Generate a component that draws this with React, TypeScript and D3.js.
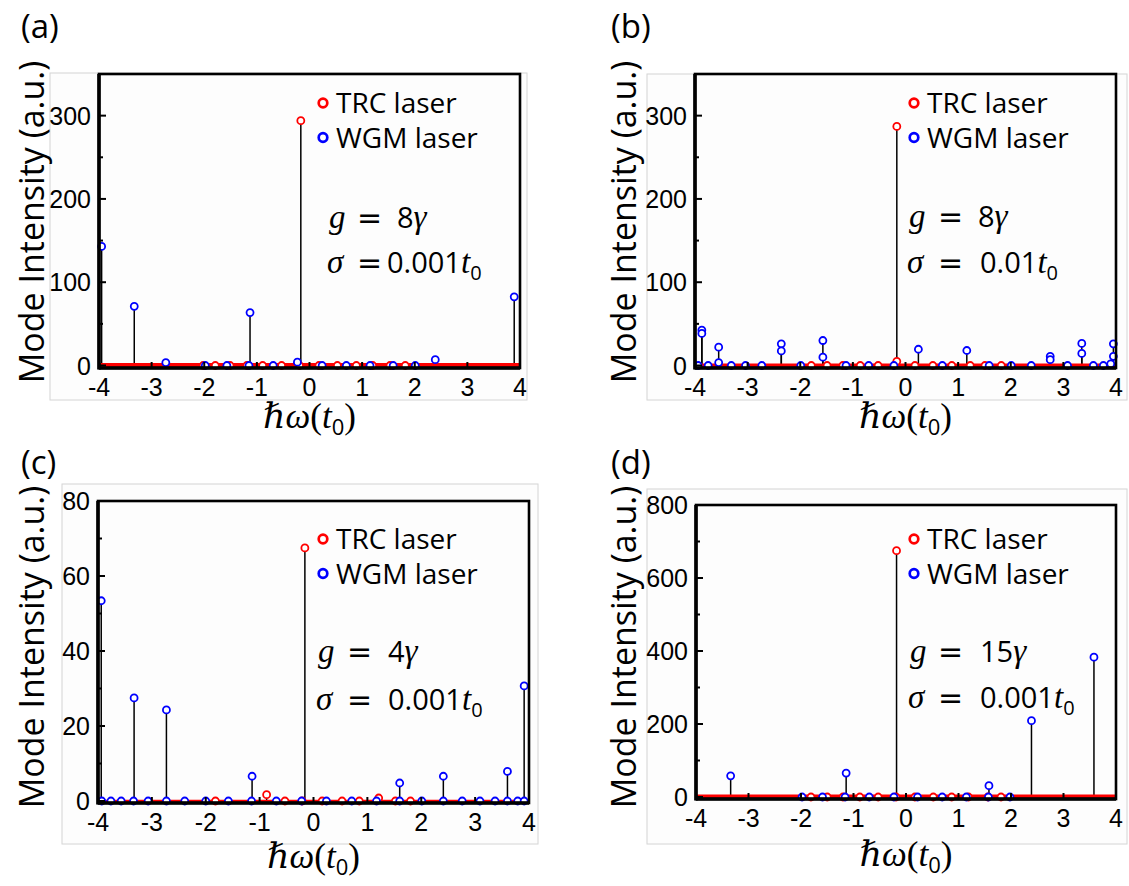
import React from 'react';
import * as d3 from 'd3';

// ---------- DATA ----------
const xTickValues = [-4, -3, -2, -1, 0, 1, 2, 3, 4];

// Panel (a): g = 8γ, σ = 0.001 t0
const aTrcOmega = [-0.165, -2.02, -1.79, -1.51, -1.19, -0.89, -0.53, -0.19, 0.18, 0.53, 0.89, 1.2, 1.53, 1.82];
const aTrcValue = [294, 0, 0, 0, 0, 0, 0, 0, 0, 0, 0, 0, 0, 0];
const aWgmOmega = [-3.95, -3.33, -2.73, -1.13, -0.23, 2.39, 3.89, -1.98, -1.57, -1.15, -0.69, 0.24, 0.7, 1.15, 1.59, 2.01];
const aWgmValue = [143, 71, 3.5, 63.5, 4, 7, 82.5, 0, 0, 0, 0, 0, 0, 0, 0, 0];
const aYTicks = [0, 100, 200, 300];
const aYMinor = [50, 150, 250];

// Panel (b): g = 8γ, σ = 0.01 t0
const bTrcOmega = [-0.165, -0.165, -1.79, -1.49, -1.19, -0.86, -0.52, 0.18, 0.52, 0.88, 1.23, 1.51, 1.82];
const bTrcValue = [287, 5, 0, 0, 0, 0, 0, 0, 0, 0, 0, 0, 0];
const bWgmOmega = [-3.87, -3.87, -3.55, -3.55, -2.36, -2.36, -1.57, -1.57, 0.245, 1.165, 2.75, 2.75, 3.35, 3.35, 3.95, 3.95, 3.9,
  -3.94, -3.75, -3.31, -3.04, -2.73, -1.99, -1.13, -0.7, -0.22, 0.7, 1.59, 2.01, 2.39, 3.08, 3.57, 3.76];
const bWgmValue = [42.5, 38.5, 22, 3.5, 26, 17.5, 30, 10, 19.5, 18, 11, 7, 26.5, 14.5, 26, 11, 2,
  0, 0, 0, 0, 0, 0, 0, 0, 0, 0, 0, 0, 0, 0, 0, 0];
const bYTicks = [0, 100, 200, 300];
const bYMinor = [50, 150, 250];

// Panel (c): g = 4γ, σ = 0.001 t0
const cTrcOmega = [-0.16, -0.87, 1.21, -1.82, -0.53, -0.21, 0.16, 0.53, 0.85, 1.52, 1.8];
const cTrcValue = [67.5, 1.7, 0.8, 0, 0, 0, 0, 0, 0, 0, 0];
const cWgmOmega = [-3.94, -3.33, -2.73, -1.14, 1.6, 2.41, 3.6, 3.91,
  -3.93, -3.76, -3.57, -3.34, -3.07, -2.73, -2.39, -2.0, -1.58, -1.15, -0.69, -0.22, 0.24, 0.71, 1.17, 1.6, 2.01, 2.41, 2.76, 3.09, 3.37, 3.6, 3.79, 3.91];
const cWgmValue = [53.4, 27.5, 24.3, 6.6, 4.8, 6.6, 7.9, 30.7,
  0, 0, 0, 0, 0, 0, 0, 0, 0, 0, 0, 0, 0, 0, 0, 0, 0, 0, 0, 0, 0, 0, 0, 0];
const cYTicks = [0, 20, 40, 60, 80];
const cYMinor = [10, 30, 50, 70];

// Panel (d): g = 15γ, σ = 0.001 t0
const dTrcOmega = [-0.18, -1.81, -1.5, -1.2, -0.88, -0.53, -0.19, 0.17, 0.52, 0.87, 1.19, 1.56, 1.81];
const dTrcValue = [675, 0, 0, 0, 0, 0, 0, 0, 0, 0, 0, 0, 0];
const dWgmOmega = [-3.34, -1.14, 1.58, 2.39, 3.58, -1.98, -1.59, -1.16, -0.7, -0.23, 0.22, 0.69, 1.15, 1.57, 1.98];
const dWgmValue = [58, 65.6, 31, 209, 383, 0, 0, 0, 0, 0, 0, 0, 0, 0, 0];
const dYTicks = [0, 200, 400, 600, 800];
const dYMinor = [100, 300, 500, 700];

const legendLabels = ['TRC laser', 'WGM laser'];
const yTitle = 'Mode Intensity (a.u.)';

// ---------- LAYOUT ----------
const RED = '#ff0000';
const BLUE = '#0000ff';
const MATH = "'Liberation Serif', 'DejaVu Serif', serif";
const SANS = "'Open Sans', sans-serif";
const TICKF = "'Liberation Sans', Arial, sans-serif";
const LEG_ROW = 34.5;

const panels = [
  {
    label: '(a)', labelX: 21, labelY: 38,
    l: 99, r: 520, t: 74, b: 368, y0: 365.5, yMax: 350,
    ticks: aYTicks, minor: aYMinor,
    trcW: aTrcOmega, trcV: aTrcValue, wgmW: aWgmOmega, wgmV: aWgmValue,
    border: [50, 73, 477, 327], titleX: 44, titleY: 222, xTitleY: 428,
    legX: 323, legY: 103,
    g: '8', s: '0.001', ax: 329, ay1: 228, ay2: 273, eqX: 357, v1X: 397, v2X: 387,
    stripe: 5,
  },
  {
    label: '(b)', labelX: 611, labelY: 38,
    l: 695, r: 1116, t: 74, b: 368, y0: 365.5, yMax: 350,
    ticks: bYTicks, minor: bYMinor,
    trcW: bTrcOmega, trcV: bTrcValue, wgmW: bWgmOmega, wgmV: bWgmValue,
    border: [647, 74, 480, 326], titleX: 636, titleY: 222, xTitleY: 428,
    legX: 914, legY: 103,
    g: '8', s: '0.01', ax: 909, ay1: 227, ay2: 273, eqX: 938, v1X: 978, v2X: 980,
    stripe: 4,
  },
  {
    label: '(c)', labelX: 21, labelY: 474,
    l: 98, r: 529, t: 501, b: 803, y0: 801, yMax: 80,
    ticks: cYTicks, minor: cYMinor,
    trcW: cTrcOmega, trcV: cTrcValue, wgmW: cWgmOmega, wgmV: cWgmValue,
    border: [62, 484, 476, 360], titleX: 44, titleY: 647, xTitleY: 868,
    legX: 323, legY: 539,
    g: '4', s: '0.001', ax: 318, ay1: 662, ay2: 710, eqX: 347, v1X: 388, v2X: 388,
    stripe: 2.5,
  },
  {
    label: '(d)', labelX: 611, labelY: 474,
    l: 696, r: 1116, t: 505, b: 799, y0: 797, yMax: 800,
    ticks: dYTicks, minor: dYMinor,
    trcW: dTrcOmega, trcV: dTrcValue, wgmW: dWgmOmega, wgmV: dWgmValue,
    border: [647, 489, 480, 355], titleX: 636, titleY: 647, xTitleY: 866,
    legX: 914, legY: 539,
    g: '15', s: '0.001', ax: 910, ay1: 662, ay2: 708, eqX: 938, v1X: 980, v2X: 980,
    stripe: 5,
  },
];

function Panel({ p }: { p: any }) {
  const x = d3.scaleLinear().domain([-4, 4]).range([p.l, p.r]);
  const y = d3.scaleLinear().domain([0, p.yMax]).range([p.y0, p.t]);
  const trc = p.trcW.map((w: number, i: number) => ({ w, v: p.trcV[i] }));
  const wgm = p.wgmW.map((w: number, i: number) => ({ w, v: p.wgmV[i] }));
  const stems = [...trc, ...wgm].filter((d) => d.v > 1);
  return (
    <g>
      <rect x={p.border[0]} y={p.border[1]} width={p.border[2]} height={p.border[3]} fill="#fdfdfd" stroke="#d4d4d4" strokeWidth={1} />
      <text x={p.labelX} y={p.labelY} fontFamily={SANS} fontSize={33} fill="#000">{p.label}</text>
      <text transform={`translate(${p.titleX},${p.titleY}) rotate(-90)`} textAnchor="middle" fontFamily={SANS} fontSize={34} fill="#000">{yTitle}</text>
      {/* stems */}
      {stems.map((d: any, i: number) => (
        <line key={'s' + i} x1={x(d.w)} x2={x(d.w)} y1={y(0)} y2={y(d.v)} stroke="#000" strokeWidth={1.5} />
      ))}
      {/* dense near-zero TRC modes forming a band */}
      <line x1={x(-4)} x2={x(4)} y1={y(0)} y2={y(0)} stroke={RED} strokeWidth={p.stripe} />
      {trc.map((d: any, i: number) => (
        <circle key={'r' + i} cx={x(d.w)} cy={y(d.v)} r={3.5} fill="#fff" stroke={RED} strokeWidth={1.8} />
      ))}
      {wgm.map((d: any, i: number) => (
        <circle key={'b' + i} cx={x(d.w)} cy={y(d.v)} r={3.5} fill="#fff" stroke={BLUE} strokeWidth={1.8} />
      ))}
      {/* frame */}
      <rect x={p.l} y={p.t} width={p.r - p.l} height={p.b - p.t} fill="none" stroke="#000" strokeWidth={2.6} />
      <line x1={p.l} x2={p.l} y1={p.t} y2={p.b + 1.5} stroke="#000" strokeWidth={3.6} />
      <line x1={p.l} x2={p.r} y1={p.b} y2={p.b} stroke="#000" strokeWidth={3.6} />
      {/* y ticks */}
      {p.ticks.map((v: number) => (
        <g key={'yt' + v}>
          <line x1={p.l} x2={p.l + 7} y1={y(v)} y2={y(v)} stroke="#000" strokeWidth={2} />
          <text x={p.l - 8} y={y(v)} dy="0.36em" textAnchor="end" fontFamily={TICKF} fontSize={25} fill="#000">{v}</text>
        </g>
      ))}
      {p.minor.map((v: number) => (
        <line key={'ym' + v} x1={p.l} x2={p.l + 4} y1={y(v)} y2={y(v)} stroke="#000" strokeWidth={2} />
      ))}
      {/* x ticks */}
      {xTickValues.map((v) => (
        <g key={'xt' + v}>
          <line x1={x(v)} x2={x(v)} y1={p.b} y2={p.b - 6} stroke="#000" strokeWidth={2} />
          <text x={x(v)} y={p.b + 28} textAnchor="middle" fontFamily={TICKF} fontSize={25} fill="#000">{v}</text>
        </g>
      ))}
      {/* x title */}
      <text x={(p.l + p.r) / 2} y={p.xTitleY} textAnchor="middle" fontFamily={MATH} fontSize={35} fill="#000">
        <tspan fontStyle="italic">ℏω</tspan>
        <tspan>(</tspan>
        <tspan fontStyle="italic">t</tspan>
        <tspan fontSize={22} dy={7} fontFamily={SANS}>0</tspan>
        <tspan dy={-7}>)</tspan>
      </text>
      {/* legend */}
      {legendLabels.map((lab, i) => (
        <g key={lab}>
          <circle cx={p.legX} cy={p.legY + i * LEG_ROW} r={4.3} fill="#fff" stroke={i === 0 ? RED : BLUE} strokeWidth={2.7} />
          <text x={p.legX + 13} y={p.legY + i * LEG_ROW + 10} fontFamily={SANS} fontSize={28} fill="#000">{lab}</text>
        </g>
      ))}
      {/* annotation */}
      <text y={p.ay1} fill="#000">
        <tspan x={p.ax} fontFamily={MATH} fontStyle="italic" fontSize={33}>g</tspan>
        <tspan x={p.eqX} fontFamily="'DejaVu Sans', sans-serif" fontSize={30}>=</tspan>
        <tspan x={p.v1X} fontFamily={SANS} fontSize={29}>{p.g}</tspan>
        <tspan fontFamily={MATH} fontStyle="italic" fontSize={33}>γ</tspan>
      </text>
      <text y={p.ay2} fill="#000">
        <tspan x={p.ax - 2} fontFamily={MATH} fontStyle="italic" fontSize={33}>σ</tspan>
        <tspan x={p.eqX} fontFamily="'DejaVu Sans', sans-serif" fontSize={30}>=</tspan>
        <tspan x={p.v2X} fontFamily={SANS} fontSize={29}>{p.s}</tspan>
        <tspan fontFamily={MATH} fontStyle="italic" fontSize={33}>t</tspan>
        <tspan fontFamily={SANS} fontSize={20} dy={7}>0</tspan>
      </text>
    </g>
  );
}

export default function App() {
  return (
    <svg width={1129} height={886} style={{ position: 'absolute', left: 0, top: 0, background: '#fff' }}>
      <rect x={0} y={0} width={1129} height={886} fill="#fff" />
      {panels.map((p) => (
        <Panel key={p.label} p={p} />
      ))}
    </svg>
  );
}
